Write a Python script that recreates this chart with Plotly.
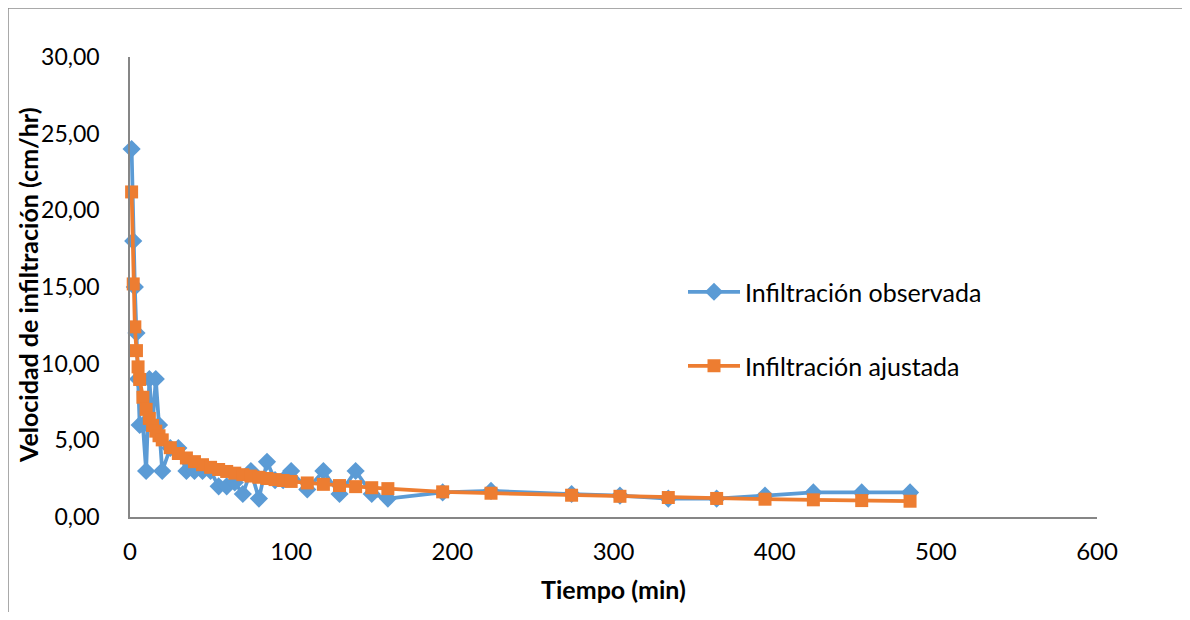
import plotly.graph_objects as go

# Time (min)
tiempo = [1, 2, 3, 4, 5, 6, 8, 10, 12, 14, 16, 18, 20, 25, 30, 35, 40, 45, 50, 55,
          60, 65, 70, 75, 80, 85, 90, 95, 100, 110, 120, 130, 140, 150, 160,
          194, 224, 274, 304, 334, 364, 394, 424, 454, 484]

# Observed infiltration rate (cm/hr)
observada = [24.0, 18.0, 15.0, 12.0, 9.0, 6.0, 6.0, 3.0, 9.0, 6.0, 9.0, 6.0, 3.0, 4.5, 4.5, 3.0, 3.0, 3.0, 3.0, 2.0,
             2.0, 2.25, 1.5, 3.0, 1.2, 3.6, 2.4, 2.4, 3.0, 1.8, 3.0, 1.5, 3.0, 1.5, 1.2,
             1.6, 1.7, 1.5, 1.4, 1.2, 1.2, 1.4, 1.6, 1.6, 1.6]

# Fitted infiltration rate (cm/hr)
ajustada = [21.2, 15.2, 12.4, 10.85, 9.79, 8.97, 7.81, 7.02, 6.43, 5.97, 5.60, 5.30, 5.03, 4.52, 4.14, 3.85, 3.61, 3.41, 3.24, 3.10,
            2.97, 2.86, 2.76, 2.67, 2.59, 2.51, 2.44, 2.38, 2.32, 2.22, 2.13, 2.05, 1.98, 1.91, 1.85,
            1.64, 1.55, 1.42, 1.35, 1.27, 1.21, 1.16, 1.12, 1.07, 1.03]

x_ticks = [0, 100, 200, 300, 400, 500, 600]
y_ticks = [0, 5, 10, 15, 20, 25, 30]

BLUE = "#5B9BD5"
ORANGE = "#ED7D31"
FONT = "Lato, Carlito, Calibri, sans-serif"

fig = go.Figure()
fig.add_trace(go.Scatter(
    x=tiempo, y=observada, name="Infiltración observada", mode="lines+markers",
    line=dict(color=BLUE, width=3.75),
    marker=dict(symbol="diamond", size=14, color=BLUE),
    cliponaxis=False, legend="legend", showlegend=True,
))
fig.add_trace(go.Scatter(
    x=tiempo, y=ajustada, name="Infiltración ajustada", mode="lines+markers",
    line=dict(color=ORANGE, width=3.75),
    marker=dict(symbol="square", size=13, color=ORANGE),
    cliponaxis=False, legend="legend2", showlegend=True,
))

OFF = 8  # page offset of the figure (body margin)
W, H = 1190 - 2 * OFF, 620 - 2 * OFF
L, T = 130 - OFF, 57 - OFF
pw, ph = 967, 460
R, B = W - L - pw, H - T - ph

def px_to_paper_x(px):
    # px in page coordinates
    return (px - OFF - L) / pw

def py_to_paper_y(py):
    return 1 - (py - OFF - T) / ph

legend_common = dict(
    font=dict(family=FONT, size=25, color="#000000"),
    bgcolor="rgba(0,0,0,0)", borderwidth=0,
    xanchor="left", yanchor="middle", itemwidth=52,
)

fig.update_layout(
    width=W, height=H,
    margin=dict(l=L, r=R, t=T, b=B, autoexpand=False),
    paper_bgcolor="white", plot_bgcolor="white",
    separators=",.",
    showlegend=True,
    font=dict(family=FONT, size=23, color="#000000"),
    legend=dict(x=px_to_paper_x(683), y=py_to_paper_y(292), **legend_common),
    legend2=dict(x=px_to_paper_x(683), y=py_to_paper_y(366), **legend_common),
    xaxis=dict(
        range=[0, 600], tickvals=x_ticks, ticktext=[str(v) for v in x_ticks],
        showgrid=False, zeroline=False, showline=True, linecolor="#868686", linewidth=1.5,
        ticks="", ticklabelstandoff=12, automargin=False,
        tickfont=dict(family=FONT, size=24, color="#000000"),
        title=dict(text="<b>Tiempo (min)</b>", font=dict(family=FONT, size=25, color="#000000"), standoff=18),
    ),
    yaxis=dict(
        range=[0, 30], tickvals=y_ticks, tickformat=".2f",
        showgrid=False, zeroline=False, showline=True, linecolor="#868686", linewidth=1.5,
        ticks="", ticklabelstandoff=24, automargin=False,
        tickfont=dict(family=FONT, size=23, color="#000000"),
    ),
    annotations=[
        dict(text="<b>Velocidad de infiltración (cm/hr)</b>", textangle=-90,
             xref="paper", yref="paper", x=px_to_paper_x(28), y=py_to_paper_y(285),
             xanchor="center", yanchor="middle", showarrow=False,
             font=dict(family=FONT, size=25, color="#000000")),
    ],
    shapes=[
        dict(type="line", xref="paper", yref="paper",
             x0=px_to_paper_x(OFF), x1=px_to_paper_x(OFF + W), y0=py_to_paper_y(OFF), y1=py_to_paper_y(OFF),
             line=dict(color="#8C8C8C", width=1.5)),
        dict(type="line", xref="paper", yref="paper",
             x0=px_to_paper_x(OFF), x1=px_to_paper_x(OFF), y0=py_to_paper_y(OFF), y1=py_to_paper_y(OFF + H),
             line=dict(color="#8C8C8C", width=1.5)),
    ],
)

fig.write_html("out.html")
